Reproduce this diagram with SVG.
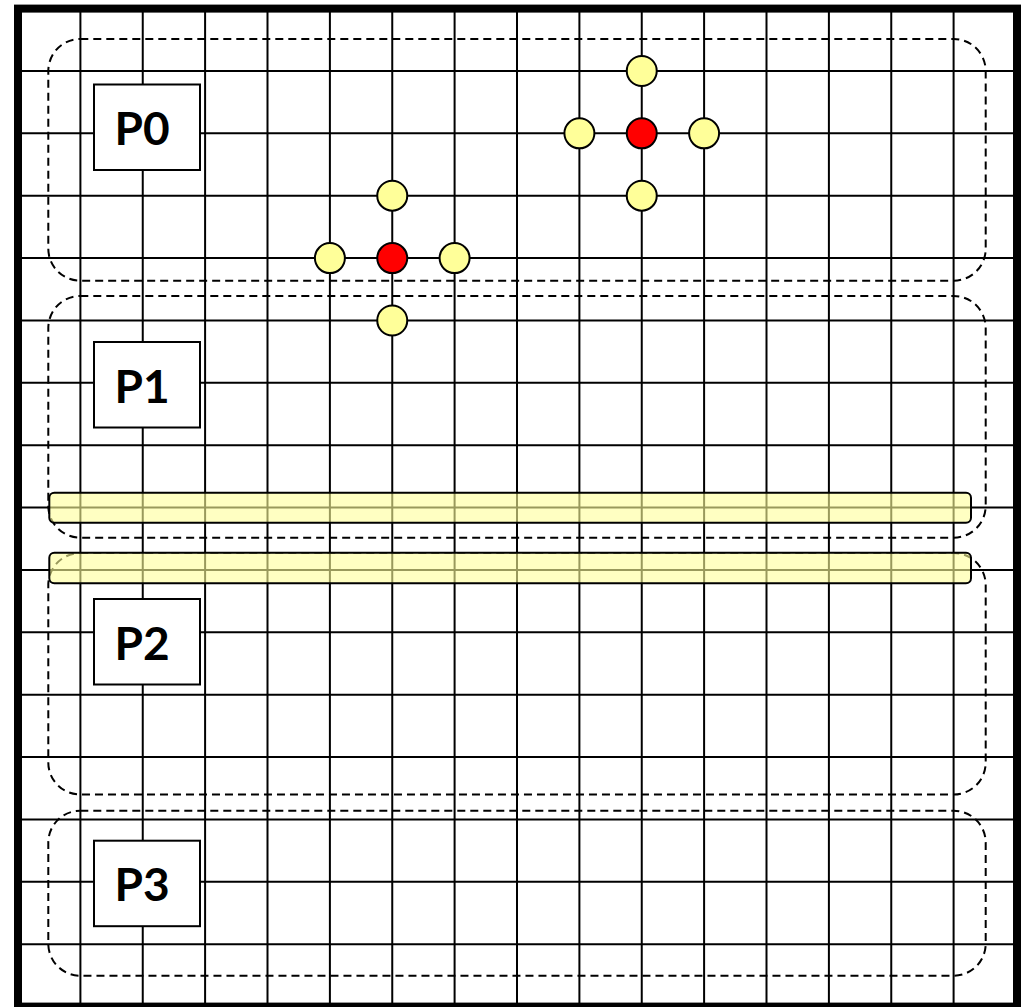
<svg xmlns="http://www.w3.org/2000/svg" width="1021" height="1007" viewBox="0 0 1021 1007">
<style>
.grid line{stroke:#000;stroke-width:2}
.grp{fill:none;stroke:#000;stroke-width:2;stroke-dasharray:8,5}
.lbl rect{fill:#fff;stroke:#000;stroke-width:2}
.lbl text{font-family:Lato,"Open Sans","Liberation Sans",sans-serif;font-weight:bold;font-size:46px;text-anchor:middle;fill:#000}
.bar{fill:#FFFF99;fill-opacity:0.6;stroke:#000;stroke-width:2}
.y{fill:#FFFF99;stroke:#000;stroke-width:2}
.r{fill:#FF0000;stroke:#000;stroke-width:2}
</style>
<rect width="1021" height="1007" fill="#fff"/>
<g class="grid" id="grid">
<line x1="80.4" y1="8.6" x2="80.4" y2="1006.6"/>
<line x1="142.75" y1="8.6" x2="142.75" y2="1006.6"/>
<line x1="205.1" y1="8.6" x2="205.1" y2="1006.6"/>
<line x1="267.5" y1="8.6" x2="267.5" y2="1006.6"/>
<line x1="329.9" y1="8.6" x2="329.9" y2="1006.6"/>
<line x1="392.25" y1="8.6" x2="392.25" y2="1006.6"/>
<line x1="454.6" y1="8.6" x2="454.6" y2="1006.6"/>
<line x1="517" y1="8.6" x2="517" y2="1006.6"/>
<line x1="579.4" y1="8.6" x2="579.4" y2="1006.6"/>
<line x1="641.75" y1="8.6" x2="641.75" y2="1006.6"/>
<line x1="704.1" y1="8.6" x2="704.1" y2="1006.6"/>
<line x1="766.5" y1="8.6" x2="766.5" y2="1006.6"/>
<line x1="828.9" y1="8.6" x2="828.9" y2="1006.6"/>
<line x1="891.25" y1="8.6" x2="891.25" y2="1006.6"/>
<line x1="953.6" y1="8.6" x2="953.6" y2="1006.6"/>
<line x1="18" y1="71" x2="1017" y2="71"/>
<line x1="18" y1="133.35" x2="1017" y2="133.35"/>
<line x1="18" y1="195.7" x2="1017" y2="195.7"/>
<line x1="18" y1="258.1" x2="1017" y2="258.1"/>
<line x1="18" y1="320.5" x2="1017" y2="320.5"/>
<line x1="18" y1="382.85" x2="1017" y2="382.85"/>
<line x1="18" y1="445.2" x2="1017" y2="445.2"/>
<line x1="18" y1="507.6" x2="1017" y2="507.6"/>
<line x1="18" y1="570" x2="1017" y2="570"/>
<line x1="18" y1="632.35" x2="1017" y2="632.35"/>
<line x1="18" y1="694.7" x2="1017" y2="694.7"/>
<line x1="18" y1="757.1" x2="1017" y2="757.1"/>
<line x1="18" y1="819.5" x2="1017" y2="819.5"/>
<line x1="18" y1="881.85" x2="1017" y2="881.85"/>
<line x1="18" y1="944.2" x2="1017" y2="944.2"/>
</g>
<g id="groups">
<rect id="grpP0" class="grp" x="48.3" y="39" width="937.4" height="241.7" rx="32" ry="32"/>
<rect id="grpP1" class="grp" x="48.3" y="296" width="937.4" height="241.7" rx="32" ry="32"/>
<rect id="grpP2" class="grp" x="48.3" y="553" width="937.4" height="241.5" rx="32" ry="32"/>
<rect id="grpP3" class="grp" x="48.3" y="810.7" width="937.4" height="165" rx="32" ry="32"/>
</g>
<g id="labelP0" class="lbl"><rect x="94" y="84.5" width="106" height="85.5"/><text x="142" y="145">P0</text></g>
<g id="labelP1" class="lbl"><rect x="94" y="342" width="106" height="85.5"/><text x="142" y="402.5">P1</text></g>
<g id="labelP2" class="lbl"><rect x="94" y="599" width="106" height="85.5"/><text x="142" y="659.5">P2</text></g>
<g id="labelP3" class="lbl"><rect x="94" y="840.7" width="106" height="85.5"/><text x="142" y="901.2">P3</text></g>
<g id="bars">
<rect id="bar1" class="bar" x="49.3" y="492.7" width="921.7" height="30" rx="5" ry="5"/>
<rect id="bar2" class="bar" x="49.3" y="552.7" width="921.7" height="30.6" rx="5" ry="5"/>
</g>
<g id="cluster1">
<circle class="y" cx="392.25" cy="195.7" r="15"/>
<circle class="y" cx="329.9" cy="258.1" r="15"/>
<circle class="y" cx="454.6" cy="258.1" r="15"/>
<circle class="y" cx="392.25" cy="320.5" r="15"/>
<circle class="r" cx="392.25" cy="258.1" r="15"/>
</g>
<g id="cluster2">
<circle class="y" cx="641.75" cy="71" r="15"/>
<circle class="y" cx="579.4" cy="133.35" r="15"/>
<circle class="y" cx="704.1" cy="133.35" r="15"/>
<circle class="y" cx="641.75" cy="195.7" r="15"/>
<circle class="r" cx="641.75" cy="133.35" r="15"/>
</g>
<rect id="border" x="18" y="8.6" width="999" height="998" fill="none" stroke="#000" stroke-width="8"/>
</svg>
